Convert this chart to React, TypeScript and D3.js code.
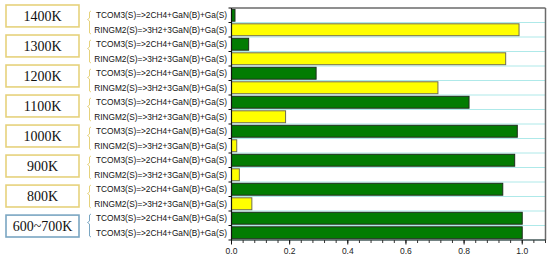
import React from 'react'
import { scaleBand, scaleLinear, range } from 'd3'

const W = 550
const H = 259

const temps = ['1400K', '1300K', '1200K', '1100K', '1000K', '900K', '800K', '600~700K']
const tcomLabel = 'TCOM3(S)=>2CH4+GaN(B)+Ga(S)'
const ringLabel = 'RINGM2(S)=>3H2+3GaN(B)+Ga(S)'
const tcomValues = [0.012, 0.059, 0.291, 0.817, 0.983, 0.974, 0.933, 1.0]
const secondValues = [0.989, 0.943, 0.71, 0.186, 0.018, 0.027, 0.07, 1.0]
const secondLabels = [ringLabel, ringLabel, ringLabel, ringLabel, ringLabel, ringLabel, ringLabel, tcomLabel]
const xTicks = [0, 0.2, 0.4, 0.6, 0.8, 1.0]

const margin = { top: 8, right: 4.5, bottom: 19, left: 231.5 }

type Row = { id: string, label: string, value: number, kind: 'tcom' | 'ring' }

const rows: Row[] = []
temps.forEach((t, i) => {
    rows.push({ id: t + '-a', label: tcomLabel, value: tcomValues[i], kind: 'tcom' })
    rows.push({ id: t + '-b', label: secondLabels[i], value: secondValues[i], kind: secondLabels[i] === tcomLabel ? 'tcom' : 'ring' })
})

const GREEN = '#027c02'
const YELLOW = '#ffff00'
const GOLD = '#e6d27c'
const BLUE = '#7aa6c2'

export default function App() {
    const x = scaleLinear().domain([0, 1.08]).range([margin.left, W - margin.right])
    const y = scaleBand<string>().domain(rows.map((r) => r.id)).range([margin.top, H - margin.bottom])
    const barPad = 1.3
    const step = y.step()

    // left boxes with temperature
    const boxY = scaleBand<string>().domain(temps).range([5, 237]).paddingInner(0.27).paddingOuter(0)

    const minorTicks = range(0, 1.0801, 0.04)

    return (
        <svg width={W} height={H} style={{ position: 'absolute', left: 0, top: 0, background: '#fff' }}>
            {/* grid */}
            {rows.map((r, i) => (
                <line key={'g' + r.id} x1={x(0)} x2={x(1.08)} y1={margin.top + step * (i + 1)} y2={margin.top + step * (i + 1)}
                    stroke="#aee9e9" strokeWidth={1} />
            ))}
            {/* bars */}
            {rows.map((r) => (
                <rect key={r.id} x={x(0)} y={(y(r.id) as number) + barPad} width={x(r.value) - x(0)} height={step - 2 * barPad}
                    fill={r.kind === 'tcom' ? GREEN : YELLOW}
                    stroke={r.kind === 'tcom' ? '#1d2e1d' : '#6e6e50'} strokeWidth={1} />
            ))}
            {/* frame */}
            <line x1={x(0)} x2={x(1.08)} y1={margin.top} y2={margin.top} stroke="#6a6a6a" strokeWidth={1.5} />
            <line x1={x(1.08)} x2={x(1.08)} y1={margin.top} y2={H - margin.bottom} stroke="#6a6a6a" strokeWidth={1.5} />
            <line x1={x(0)} x2={x(0)} y1={margin.top} y2={H - margin.bottom} stroke="#111" strokeWidth={1.2} />
            <line x1={x(0)} x2={x(1.08)} y1={H - margin.bottom} y2={H - margin.bottom} stroke="#111" strokeWidth={1.2} />
            {/* left ticks */}
            {range(0, rows.length + 1).map((i) => (
                <line key={'lt' + i} x1={x(0) - 3} x2={x(0)} y1={margin.top + step * i} y2={margin.top + step * i} stroke="#111" strokeWidth={1} />
            ))}
            {/* bottom ticks */}
            {minorTicks.map((t, i) => (
                <line key={'mt' + i} x1={x(t)} x2={x(t)} y1={H - margin.bottom} y2={H - margin.bottom + 3} stroke="#333" strokeWidth={1} />
            ))}
            {xTicks.map((t) => (
                <g key={'xt' + t}>
                    <line x1={x(t)} x2={x(t)} y1={H - margin.bottom} y2={H - margin.bottom + 4.5} stroke="#111" strokeWidth={1} />
                    <text x={x(t)} y={254} textAnchor="middle" fontFamily="Liberation Sans, Arial, sans-serif" fontSize={8.5} fill="#222">
                        {t.toFixed(1)}
                    </text>
                </g>
            ))}
            {/* category labels */}
            {rows.map((r) => (
                <text key={'l' + r.id} x={227} y={(y(r.id) as number) + step / 2 + 3} textAnchor="end"
                    fontFamily="Liberation Sans, Arial, sans-serif" fontSize={8.3} fill="#111">
                    {r.label}
                </text>
            ))}
            {/* brackets */}
            {temps.map((t, i) => {
                const top = margin.top + step * 2 * i + 3
                const bot = top + step * 2 - 6
                const mid = (top + bot) / 2 - 3
                const c = i === temps.length - 1 ? BLUE : GOLD
                return (
                    <path key={'br' + t} d={`M91,${top} L89.5,${top + 1} L89.5,${mid - 1.5} L87.5,${mid} L89.5,${mid + 1.5} L89.5,${bot - 1} L91,${bot}`}
                        fill="none" stroke={c} strokeWidth={1} />
                )
            })}
            {/* temperature boxes */}
            {temps.map((t, i) => {
                const by = boxY(t) as number
                const bh = boxY.bandwidth()
                const c = i === temps.length - 1 ? BLUE : GOLD
                return (
                    <g key={'bx' + t}>
                        <rect x={6} y={by} width={73} height={bh} fill="#fff" stroke={c} strokeWidth={1.6} />
                        <text x={42.5} y={by + bh / 2 + 5} textAnchor="middle" fontFamily="Liberation Serif, Times New Roman, serif"
                            fontSize={14} fill="#111">
                            {t}
                        </text>
                    </g>
                )
            })}
        </svg>
    )
}
